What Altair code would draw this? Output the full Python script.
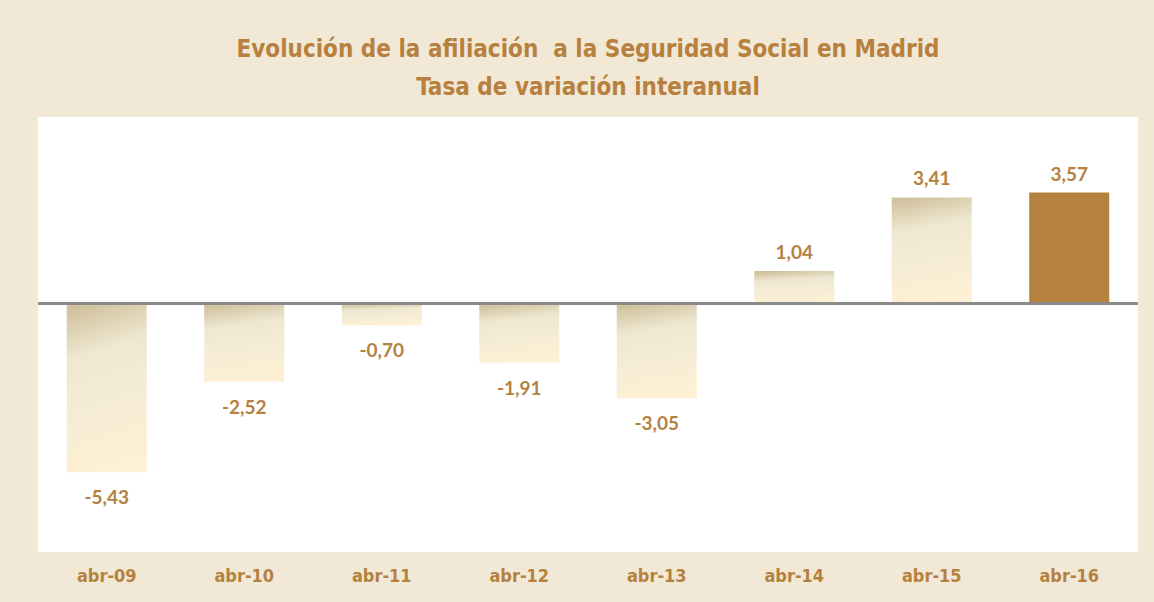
import altair as alt
import pandas as pd

# ---- data ----
periods = ["abr-09", "abr-10", "abr-11", "abr-12", "abr-13", "abr-14", "abr-15", "abr-16"]
rates = [-5.43, -2.52, -0.70, -1.91, -3.05, 1.04, 3.41, 3.57]
rate_labels = ["-5,43", "-2,52", "-0,70", "-1,91", "-3,05", "1,04", "3,41", "3,57"]
is_current = [False, False, False, False, False, False, False, True]

title_lines = [
    "Evolución de la afiliación\u00a0 a la Seguridad Social en Madrid",
    "Tasa de variación interanual",
]

df = pd.DataFrame({
    "periodo": periods,
    "tasa": rates,
    "etiqueta": rate_labels,
    "actual": is_current,
})

GOLD = "#B5813F"
NARROW = "DejaVu Sans Condensed, sans-serif"
LABELFONT = "Lato, Open Sans, sans-serif"

x = alt.X(
    "periodo:N",
    sort=periods,
    scale=alt.Scale(paddingInner=0.418, paddingOuter=0.209),
    axis=alt.Axis(
        title=None, labelAngle=0, ticks=False, domain=False, grid=False,
        labelFont=NARROW, labelFontSize=18, labelFontWeight="bold",
        labelColor=GOLD, labelPadding=15,
    ),
)
y = alt.Y("tasa:Q", scale=alt.Scale(domain=[-8, 6], nice=False), axis=None)

grad = alt.Gradient(
    gradient="linear",
    stops=[
        alt.GradientStop(offset=0, color="#D2C39F"),
        alt.GradientStop(offset=0.28, color="#EEE7D1"),
        alt.GradientStop(offset=0.5, color="#F3EBD4"),
        alt.GradientStop(offset=1, color="#FEF0D4"),
    ],
    x1=0.35, x2=0.5, y1=0, y2=1,
)

base = alt.Chart(df)

bars = base.transform_filter("!datum.actual").mark_bar(color=grad).encode(x=x, y=y)
bar_now = base.transform_filter("datum.actual").mark_bar(color=GOLD).encode(x=x, y=y)

zero = alt.Chart(pd.DataFrame({"v": [0]})).mark_rule(color="#8A8A8A", strokeWidth=3).encode(
    y=alt.Y("v:Q", scale=alt.Scale(domain=[-8, 6], nice=False), axis=None)
)

txt_pos = base.transform_filter("datum.tasa >= 0").mark_text(
    font=LABELFONT, fontSize=19, fontWeight="bold", color=GOLD, baseline="middle", dy=-18
).encode(x=x, y=y, text="etiqueta:N")

txt_neg = base.transform_filter("datum.tasa < 0").mark_text(
    font=LABELFONT, fontSize=19, fontWeight="bold", color=GOLD, baseline="middle", dy=26
).encode(x=x, y=y, text="etiqueta:N")

chart = alt.layer(bars, bar_now, zero, txt_pos, txt_neg).properties(
    width=1100,
    height=435,
    autosize=alt.AutoSizeParams(type="none"),
    padding={"left": 38, "top": 117, "right": 16, "bottom": 50},
    background="#F1E9D6",
    title=alt.TitleParams(
        text=title_lines, font=NARROW, fontSize=24, fontWeight="bold",
        color="#B8803E", anchor="middle", lineHeight=38, offset=17,
    ),
).configure_view(fill="white", strokeWidth=0)

chart.save("out.html", embed_options={"renderer": "svg", "actions": False})
